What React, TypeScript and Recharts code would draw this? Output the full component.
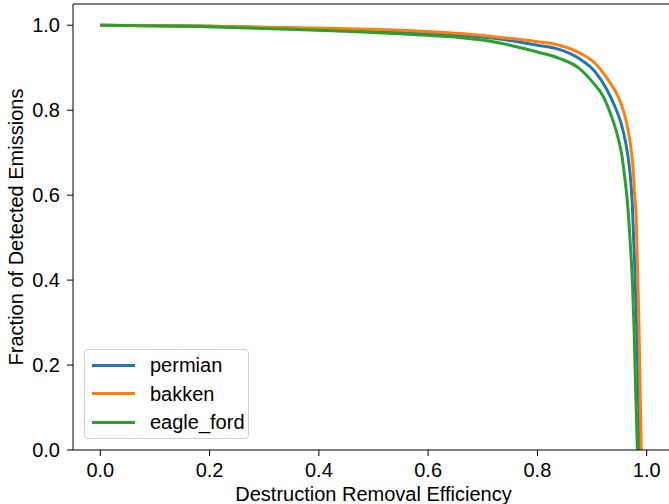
import { LineChart, Line, XAxis, YAxis, Legend, ReferenceLine } from 'recharts';

const xTicks = [0, 0.2, 0.4, 0.6, 0.8, 1.0];
const yTicks = [0, 0.2, 0.4, 0.6, 0.8, 1.0];

const permianX = [0, 0.18, 0.36, 0.55, 0.65, 0.7, 0.75, 0.8, 0.84, 0.877, 0.906, 0.926, 0.942, 0.953, 0.961, 0.967, 0.971, 0.974, 0.976, 0.978, 0.98, 0.982, 0.985, 0.987];
const permianY = [1.0, 0.998, 0.993, 0.984, 0.977, 0.972, 0.964, 0.953, 0.943, 0.921, 0.89, 0.851, 0.808, 0.77, 0.727, 0.68, 0.63, 0.57, 0.5, 0.44, 0.36, 0.28, 0.13, 0.0];

const bakkenX = [0, 0.18, 0.36, 0.55, 0.65, 0.7, 0.75, 0.8, 0.84, 0.877, 0.906, 0.929, 0.948, 0.959, 0.966, 0.971, 0.975, 0.978, 0.981, 0.982, 0.984, 0.986, 0.988, 0.99];
const bakkenY = [1.0, 0.998, 0.994, 0.988, 0.981, 0.976, 0.969, 0.961, 0.953, 0.935, 0.91, 0.872, 0.831, 0.792, 0.753, 0.713, 0.665, 0.6, 0.541, 0.486, 0.392, 0.282, 0.14, 0.0];

const eagleFordX = [0, 0.18, 0.36, 0.55, 0.65, 0.7, 0.75, 0.8, 0.84, 0.877, 0.901, 0.921, 0.936, 0.947, 0.955, 0.96, 0.965, 0.97, 0.974, 0.977, 0.98, 0.983];
const eagleFordY = [1.0, 0.997, 0.99, 0.98, 0.972, 0.965, 0.953, 0.937, 0.922, 0.898, 0.866, 0.831, 0.784, 0.738, 0.69, 0.64, 0.58, 0.486, 0.392, 0.282, 0.13, 0.0];

const FONT = '"Liberation Sans", Arial, Helvetica, sans-serif';

const toPoints = (xs: number[], ys: number[]) => xs.map((x, i) => ({ x, y: ys[i] }));

const series = [
  { name: 'permian', color: '#1f77b4', data: toPoints(permianX, permianY) },
  { name: 'bakken', color: '#ff7f0e', data: toPoints(bakkenX, bakkenY) },
  { name: 'eagle_ford', color: '#2ca02c', data: toPoints(eagleFordX, eagleFordY) },
];

const XTick = ({ x, y, payload }: any) => (
  <text x={x} y={y + 19} textAnchor="middle" fontSize={20} fontFamily={FONT} fill="#000">
    {payload.value.toFixed(1)}
  </text>
);

const YTick = ({ x, y, payload }: any) => (
  <text x={x - 5} y={y + 7} textAnchor="end" fontSize={20} fontFamily={FONT} fill="#000">
    {payload.value.toFixed(1)}
  </text>
);

const LegendBox = () => (
  <div
    style={{
      width: 165,
      height: 90,
      border: '1px solid #d0d0d0',
      borderRadius: 4,
      background: 'rgba(255,255,255,0.8)',
      fontFamily: FONT,
      fontSize: 20,
      boxSizing: 'border-box',
      position: 'relative',
    }}
  >
    {series.map((s, i) => (
      <div key={s.name} style={{ position: 'absolute', left: 0, top: 15 + i * 28.5 - 12, height: 24, display: 'flex', alignItems: 'center' }}>
        <div style={{ width: 43, height: 3, background: s.color, marginLeft: 7 }} />
        <span style={{ marginLeft: 15, color: '#000', lineHeight: '24px' }}>{s.name}</span>
      </div>
    ))}
  </div>
);

export default function App() {
  return (
    <div style={{ position: 'fixed', left: 0, top: 0, width: 669, height: 504, overflow: 'hidden', background: '#fff' }}>
      <LineChart width={680} height={504} margin={{ top: 4, right: 6, bottom: 0, left: 0 }}>
        <XAxis
          dataKey="x"
          type="number"
          domain={[-0.05, 1.05]}
          ticks={xTicks}
          allowDataOverflow
          height={54}
          stroke="#000"
          tickSize={6}
          tick={<XTick />}
          label={{
            content: ({ viewBox }: any) => (
              <text x={viewBox.x + viewBox.width / 2} y={viewBox.y + 51} textAnchor="middle" fontSize={20} fontFamily={FONT} fill="#000">
                Destruction Removal Efficiency
              </text>
            ),
          }}
        />
        <YAxis
          dataKey="y"
          type="number"
          domain={[0, 1.05]}
          ticks={yTicks}
          allowDataOverflow
          width={73}
          stroke="#000"
          tickSize={6}
          tick={<YTick />}
          label={{
            content: ({ viewBox }: any) => {
              const cy = viewBox.y + viewBox.height / 2;
              return (
                <text x={23} y={cy} transform={`rotate(-90, 23, ${cy})`} textAnchor="middle" fontSize={20} fontFamily={FONT} fill="#000">
                  Fraction of Detected Emissions
                </text>
              );
            },
          }}
        />
        <ReferenceLine y={1.05} stroke="#000" strokeWidth={1} ifOverflow="visible" />
        <ReferenceLine x={1.05} stroke="#000" strokeWidth={1} ifOverflow="visible" />
        {series.map((s) => (
          <Line
            key={s.name}
            data={s.data}
            dataKey="y"
            name={s.name}
            type="monotone"
            stroke={s.color}
            strokeWidth={3}
            dot={false}
            isAnimationActive={false}
          />
        ))}
        <Legend
          layout="horizontal"
          verticalAlign="middle"
          align="center"
          content={() => <LegendBox />}
          wrapperStyle={{ left: 84, top: 349, width: 165, height: 90 }}
        />
      </LineChart>
    </div>
  );
}
